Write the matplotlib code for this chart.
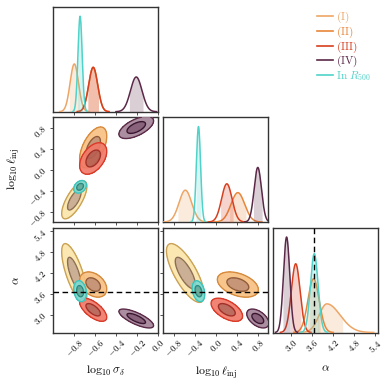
import numpy as np
import matplotlib
matplotlib.use("Agg")
import matplotlib.pyplot as plt
from matplotlib.lines import Line2D

plt.rcParams['mathtext.fontset'] = 'cm'
plt.rcParams['font.family'] = ['serif']
plt.rcParams['font.serif'] = ['cmr10', 'DejaVu Serif']
plt.rcParams['axes.formatter.use_mathtext'] = True

# ---------------- data ----------------
labels = [r"$\mathrm{(I)}$", r"$\mathrm{(II)}$", r"$\mathrm{(III)}$", r"$\mathrm{(IV)}$",
          r"$\mathrm{In}\ R_{500}$"]
# log10 sigma_delta
sig_mean = [-0.80, -0.62, -0.62, -0.21, -0.745]
sig_std = [0.040, 0.043, 0.043, 0.055, 0.020]
# log10 ell_inj
ell_mean = [-0.58, 0.42, 0.21, 0.80, -0.33]
ell_std = [0.12, 0.13, 0.10, 0.07, 0.04]
# alpha (2D contour centres / widths)
alp_mean = [4.20, 3.87, 3.15, 2.90, 3.68]
alp_std = [0.28, 0.12, 0.11, 0.09, 0.10]
# alpha marginal (mode, left width, right width)
alp_peak = [4.03, 3.65, 3.14, 2.88, 3.67]
alp_lo = [0.22, 0.16, 0.125, 0.09, 0.109]
alp_hi = [0.38, 0.16, 0.125, 0.09, 0.109]
# correlations
rho_sl = [0.72, 0.55, 0.45, 0.60, 0.30]
rho_sa = [-0.72, -0.35, -0.65, -0.75, -0.20]
rho_la = [-0.75, -0.40, -0.55, -0.50, -0.30]
alpha_ref = 3.65

sig_ticks = [-0.8, -0.6, -0.4, -0.2, 0.0]
ell_ticks = [-0.8, -0.4, 0.0, 0.4, 0.8]
alp_ticks = [3.0, 3.6, 4.2, 4.8, 5.4]
axis_labels = [r"$\log_{10}\sigma_\delta$", r"$\log_{10}\ell_{\rm inj}$", r"$\alpha$"]

# ---------------- style ----------------
line_colors = ["#eda566", "#e8863a", "#d63f1f", "#5b2848", "#4fd3c9"]
outer_fill = ["#fbe5ab", "#f8c282", "#f07a68", "#a48598", "#7fdad2"]
inner_fill = ["#c8aa8c", "#c38c6c", "#b86052", "#7e5670", "#5fa89c"]
outer_edge = ["#c9a257", "#d58a3e", "#d93a28", "#5a2a48", "#3cc4bb"]
inner_edge = ["#8c6e55", "#8f5a3a", "#a03028", "#3a1530", "#2a8a80"]
lims = [(-1.0, 0.0), (-1.0, 1.0), (2.5, 5.5)]
r_in, r_out = 1.6, 3.0
fill_k = 1.2

W, H = 391, 386
fig = plt.figure(figsize=(W / 100, H / 100), dpi=100)
col_x = [53.3, 163.3, 273.3]
row_top = [6.7, 117.0, 227.5]
size_w, size_h = 105.0, 105.0

axes = {}
for r in range(3):
    for c in range(r + 1):
        ax = fig.add_axes([col_x[c] / W, (H - row_top[r] - size_h) / H, size_w / W, size_h / H])
        axes[(r, c)] = ax
        for s in ax.spines.values():
            s.set_color("#333333")
            s.set_linewidth(1.0)
        ax.tick_params(length=2.5, width=0.6, color="#333333", labelsize=6.5, pad=1)

means = [sig_mean, ell_mean, alp_mean]
stds = [sig_std, ell_std, alp_std]
ticks = [sig_ticks, ell_ticks, alp_ticks]


def gauss(x, m, s):
    return np.exp(-0.5 * ((x - m) / s) ** 2) / (s * np.sqrt(2 * np.pi))


def split_normal(x, m, lo, hi):
    s = np.where(x < m, lo, hi)
    return np.exp(-0.5 * ((x - m) / s) ** 2) * np.sqrt(2 / np.pi) / (lo + hi)


# ------------- marginals -------------
for p in range(3):
    ax = axes[(p, p)]
    x = np.linspace(lims[p][0], lims[p][1], 800)
    ymax = 0
    for i in range(5):
        if p == 2:
            y = split_normal(x, alp_peak[i], alp_lo[i], alp_hi[i])
            lo_b, hi_b = alp_peak[i] - fill_k * alp_lo[i], alp_peak[i] + fill_k * alp_hi[i]
        else:
            y = gauss(x, means[p][i], stds[p][i])
            lo_b, hi_b = means[p][i] - fill_k * stds[p][i], means[p][i] + fill_k * stds[p][i]
        ymax = max(ymax, y.max())
        ym = np.where(y > 2e-3 * y.max(), y, np.nan)
        ax.plot(x, ym, color=line_colors[i], lw=1.1, zorder=3 + i)
        sel = (x >= lo_b) & (x <= hi_b)
        ax.fill_between(x[sel], 0, y[sel], color=line_colors[i], alpha=0.22, lw=0, zorder=2 + i)
    ax.set_ylim(0, ymax * 1.1)
    ax.set_xlim(*lims[p])
    ax.set_yticks([])
    ax.set_xticks(ticks[p])
    if p == 2:
        ax.axvline(alpha_ref, color="k", ls=(0, (4, 2.5)), lw=1.0, zorder=20)

# ------------- 2D contours -------------
rhos = {(1, 0): rho_sl, (2, 0): rho_sa, (2, 1): rho_la}
for (r, c), rho in rhos.items():
    ax = axes[(r, c)]
    xg = np.linspace(lims[c][0], lims[c][1], 300)
    yg = np.linspace(lims[r][0], lims[r][1], 300)
    X, Y = np.meshgrid(xg, yg)
    for i in range(5):
        dx = (X - means[c][i]) / stds[c][i]
        dy = (Y - means[r][i]) / stds[r][i]
        d2 = (dx ** 2 - 2 * rho[i] * dx * dy + dy ** 2) / (1 - rho[i] ** 2)
        z = 10 + 3 * i
        ax.contourf(X, Y, d2, levels=[0, r_in ** 2, r_out ** 2],
                    colors=[inner_fill[i], outer_fill[i]], alpha=0.92, zorder=z)
        ax.contour(X, Y, d2, levels=[r_out ** 2], colors=[outer_edge[i]], linewidths=1.0, zorder=z + 1)
        ax.contour(X, Y, d2, levels=[r_in ** 2], colors=[inner_edge[i]], linewidths=1.0, zorder=z + 2)
    ax.set_xlim(*lims[c])
    ax.set_ylim(*lims[r])
    ax.set_xticks(ticks[c])
    ax.set_yticks(ticks[r])
    if r == 2:
        ax.axhline(alpha_ref, color="k", ls=(0, (4, 2.5)), lw=1.0, zorder=40)

# ------------- ticks & labels -------------
for (r, c), ax in axes.items():
    if r == 2:
        ax.set_xticklabels([rf"${v:.1f}$" for v in ticks[c]], rotation=45)
        ax.set_xlabel(axis_labels[c], fontsize=8.5)
        ax.xaxis.set_label_coords(0.5, -0.3)
    else:
        ax.set_xticklabels([])
    if c == 0 and r > 0:
        ax.set_yticklabels([rf"${v:.1f}$" for v in ticks[r]], rotation=45)
        ax.set_ylabel(axis_labels[r], fontsize=8.5)
        ax.yaxis.set_label_coords(-0.3, 0.5)
    elif r != c:
        ax.set_yticklabels([])

handles = [Line2D([], [], color=line_colors[i], lw=1.2) for i in range(5)]
fig.legend(handles, labels, loc="upper left", bbox_to_anchor=(317 / W, 1 - 10 / H),
           frameon=False, fontsize=8, handlelength=1.4, handletextpad=0.35,
           labelspacing=-0.05, borderpad=0, borderaxespad=0, labelcolor="linecolor")

fig.savefig("out.png", dpi=100)
